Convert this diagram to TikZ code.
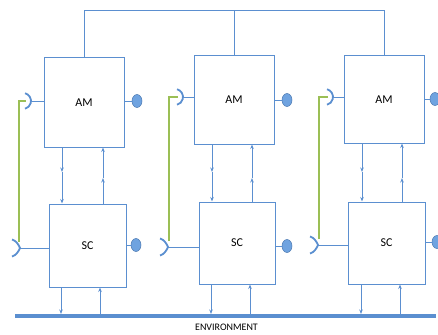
\documentclass[tikz,border=0pt]{standalone}
\usepackage{fontspec}
\setmainfont{Carlito}
\usetikzlibrary{arrows.meta,shadows,calc,shapes.geometric}
\definecolor{blu}{HTML}{5B8FD0}
\definecolor{bfill}{HTML}{6FA3E0}
\definecolor{grn}{HTML}{9BBF55}
\begin{document}
\begin{tikzpicture}[x=1pt,y=-1pt,
  box/.style={draw=blu,line width=1pt,fill=white,inner sep=0pt,font=\fontsize{12}{14}\selectfont,
    drop shadow={shadow xshift=1.2pt,shadow yshift=-1.2pt,opacity=0.25,fill=black!60}},
  wire/.style={draw=blu,line width=1pt},
  arr/.style={wire,-{Stealth[length=4.5pt,width=3.5pt]}},
  gwire/.style={draw=grn,line width=1.1pt},
  sock/.style={draw=blu,line width=1.8pt},
  dot/.style={draw=blu!85!black,line width=0.5pt,fill=bfill,ellipse,minimum width=10pt,minimum height=13pt,inner sep=0pt}]
\useasboundingbox (0,0) rectangle (438,334);
% top bus
\coordinate (bus) at (84,11);
% blocks
\node[box,minimum width=80pt,minimum height=89pt] (am1) at (84,102.5) {AM};
\node[box,minimum width=80pt,minimum height=88pt] (am2) at (234,100) {AM};
\node[box,minimum width=80pt,minimum height=87pt] (am3) at (384,99.5) {AM};
\node[box,minimum width=77pt,minimum height=83pt] (sc1) at (87.5,245.5) {SC};
\node[box,minimum width=76pt,minimum height=82pt] (sc2) at (237,243) {SC};
\node[box,minimum width=77pt,minimum height=82pt] (sc3) at (386.5,243) {SC};
\draw[wire] (am1.north) -- (am1.north |- bus) -| (am3.north);
\draw[wire] (am2.north) -- (am2.north |- bus);
% environment
\coordinate (envL) at (15,316);
\coordinate (envR) at (436,316);
\draw[draw=blu,line width=3.5pt] (envL) -- (envR);
\node[font=\fontsize{10}{12}\selectfont] (env) at (226.5,327.5) {ENVIRONMENT};
% output dots
\node[dot] (o1) at (137,101) {};
\node[dot] (o2) at (287,100) {};
\node[dot] (o3) at (435,99) {};
\node[dot] (p1) at (136,245) {};
\node[dot] (p2) at (287,246) {};
\node[dot] (p3) at (437,242) {};
\draw[wire] (am1.east |- o1) -- (o1);
\draw[wire] (am2.east |- o2) -- (o2);
\draw[wire] (am3.east |- o3) -- (o3);
\draw[wire] (sc1.east |- p1) -- (p1);
\draw[wire] (sc2.east |- p2) -- (p2);
\draw[wire] (sc3.east |- p3) -- (p3);
% sockets
\coordinate (sa1) at (31,101);
\coordinate (sa2) at (183,97);
\coordinate (sa3) at (333,97);
\coordinate (sb1) at (20,248);
\coordinate (sb2) at (168,247);
\coordinate (sb3) at (318,245);
\foreach \s/\b in {sa1/am1,sa2/am2,sa3/am3}{
  \draw[wire] (\s) -- (\s -| \b.west);
}
\foreach \s/\b in {sb1/sc1,sb2/sc2,sb3/sc3}{
  \draw[wire] (\s) -- (\s -| \b.west);
}
% green feedback lines
\draw[gwire] (sb1) ++(-1,-6) -- ($(sa1)+(-12,0)$) -- ($(sa1)+(-5,0)$);
\draw[gwire] (sb2) ++(1,-6) -- ($(sa2)+(-14,0)$) -- ($(sa2)+(-5,0)$);
\draw[gwire] (sb3) ++(1,-6) -- ($(sa3)+(-14,0)$) -- ($(sa3)+(-5,0)$);
\foreach \s in {sa1,sa2,sa3}{
  \draw[sock] ($(\s)+(-8,0)$) ++(-75:8) arc[start angle=-75,end angle=75,radius=8];
}
\foreach \s in {sb1,sb2,sb3}{
  \draw[sock] ($(\s)+(-8,-8.5)$) .. controls ($(\s)+(-4,-7.5)$) and ($(\s)+(-1.5,-3.5)$) .. (\s)
     .. controls ($(\s)+(-1.5,3.5)$) and ($(\s)+(-4,7.5)$) .. ($(\s)+(-8,8.5)$);
}
% vertical arrows between AM and SC
\foreach \a/\c/\d/\u in {am1/sc1/62/103,am2/sc2/212/252,am3/sc3/362/402}{
  \draw[arr] (\d,0 |- \a.south) -- (\d,172);
  \draw[arr] (\d,172) -- (\d,0 |- \c.north);
  \draw[arr] (\u,0 |- \c.north) -- (\u,178);
  \draw[arr] (\u,178) -- (\u,0 |- \a.south);
}
% arrows between SC and environment
\foreach \c/\d/\u in {sc1/61/100,sc2/211/250,sc3/361/400}{
  \draw[arr] (\d,0 |- \c.south) -- (\d,314);
  \draw[arr] (\u,314) -- (\u,0 |- \c.south);
}
\end{tikzpicture}
\end{document}
